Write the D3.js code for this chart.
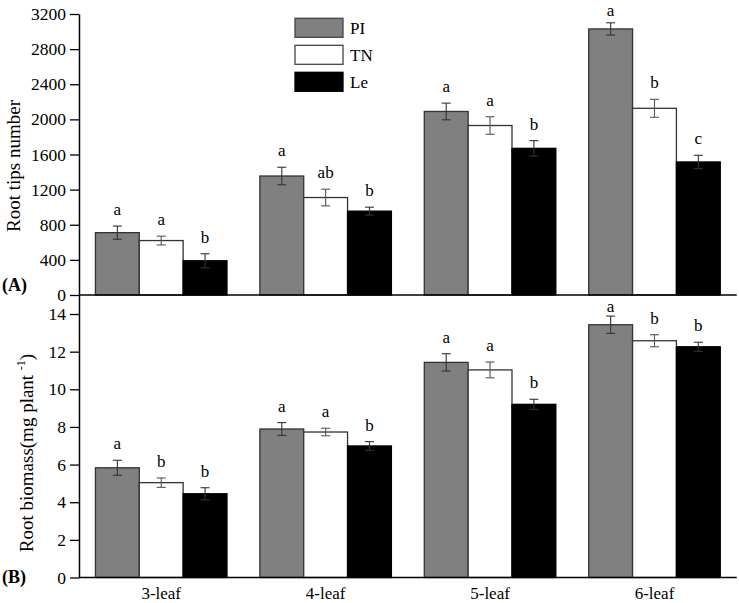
<!DOCTYPE html>
<html><head><meta charset="utf-8">
<script src="https://cdn.jsdelivr.net/npm/d3@7"></script>
<style>
body{margin:0;background:#fff}
svg{display:block}
text{font-family:"Liberation Serif","Times New Roman",serif;fill:#000}
</style>
</head><body>
<svg id="c" width="739" height="603"></svg>
<script>
const categories = ["3-leaf","4-leaf","5-leaf","6-leaf"];
const seriesNames = ["PI","TN","Le"];
const seriesColors = ["#808080","#ffffff","#000000"];

// Panel A: Root tips number
const tipsPI = [710,1355,2090,3030];
const tipsTN = [620,1110,1930,2126];
const tipsLe = [390,955,1670,1515];
const tipsErrPI = [75,100,95,70];
const tipsErrTN = [50,95,100,102];
const tipsErrLe = [80,45,88,76];
const tipsLetPI = ["a","a","a","a"];
const tipsLetTN = ["a","ab","a","b"];
const tipsLetLe = ["b","b","b","c"];
const tipsTicks = [0,400,800,1200,1600,2000,2400,2800,3200];

// Panel B: Root biomass
const bioPI = [5.83,7.89,11.43,13.43];
const bioTN = [5.04,7.73,11.03,12.58];
const bioLe = [4.45,6.99,9.2,12.26];
const bioErrPI = [0.4,0.34,0.46,0.46];
const bioErrTN = [0.25,0.2,0.42,0.32];
const bioErrLe = [0.32,0.23,0.27,0.24];
const bioLetPI = ["a","a","a","a"];
const bioLetTN = ["b","a","a","b"];
const bioLetLe = ["b","b","b","b"];
const bioTicks = [0,2,4,6,8,10,12,14];

const svg = d3.select("#c");
const axisX = 79, rightX = 736.7;

const x0 = d3.scaleBand().domain(categories).range([axisX, rightX]).paddingInner(0.2).paddingOuter(0.1);
const x1 = d3.scaleBand().domain(seriesNames).range([0, x0.bandwidth()]).padding(0);

function panel(yScale, ticks, vals, errs, lets, minBase){
  const g = svg.append("g");
  seriesNames.forEach((s, si) => {
    categories.forEach((c, ci) => {
      const v = vals[si][ci], e = errs[si][ci];
      const bx = x0(c) + x1(s), bw = x1.bandwidth();
      g.append("rect")
        .attr("x", bx).attr("y", yScale(v))
        .attr("width", bw).attr("height", yScale(0) - yScale(v))
        .attr("fill", seriesColors[si])
        .attr("stroke", si === 2 ? "#000" : "#333")
        .attr("stroke-width", 1.3);
      const cx = bx + bw/2;
      const eb = g.append("g").attr("stroke", si===1 ? "#555" : "#333").attr("stroke-width", 1.1);
      eb.append("line").attr("x1", cx).attr("x2", cx).attr("y1", yScale(v+e)).attr("y2", yScale(v-e));
      eb.append("line").attr("x1", cx-4.5).attr("x2", cx+4.5).attr("y1", yScale(v+e)).attr("y2", yScale(v+e));
      eb.append("line").attr("x1", cx-4.5).attr("x2", cx+4.5).attr("y1", yScale(v-e)).attr("y2", yScale(v-e));
      g.append("text").attr("x", cx).attr("y", Math.max(yScale(v+e) - 11, minBase))
        .attr("text-anchor", "middle").style("font-size", "17px").text(lets[si][ci]);
    });
  });
  const ax = svg.append("g").attr("transform", `translate(${axisX},0)`)
    .call(d3.axisLeft(yScale).tickValues(ticks).tickSize(9).tickSizeOuter(0).tickPadding(4).tickFormat(d3.format("d")));
  ax.select(".domain").attr("stroke", "#000").attr("stroke-width", 1.5);
  ax.selectAll(".tick line").attr("stroke", "#000").attr("stroke-width", 1.3);
  ax.selectAll(".tick text").style("font-size", "17.5px").style("font-family", '"Liberation Serif",serif').attr("fill", "#000");
  svg.append("line").attr("x1", axisX).attr("x2", rightX)
    .attr("y1", yScale(0)).attr("y2", yScale(0)).attr("stroke", "#000").attr("stroke-width", 1.5);
}

const yA = d3.scaleLinear().domain([0,3200]).range([295,14]);
const yB = d3.scaleLinear().domain([0,15]).range([577.5,295.2]);

panel(yA, tipsTicks, [tipsPI,tipsTN,tipsLe], [tipsErrPI,tipsErrTN,tipsErrLe], [tipsLetPI,tipsLetTN,tipsLetLe], 16);
panel(yB, bioTicks, [bioPI,bioTN,bioLe], [bioErrPI,bioErrTN,bioErrLe], [bioLetPI,bioLetTN,bioLetLe], 312);

// x category labels
svg.append("g").selectAll("text").data(categories).join("text")
  .attr("x", d => x0(d) + x0.bandwidth()/2).attr("y", 599)
  .attr("text-anchor", "middle").style("font-size", "17px").text(d => d);

// y titles
svg.append("text").attr("transform", "translate(20,166) rotate(-90)")
  .attr("text-anchor", "middle").style("font-size", "19px").text("Root tips number");
const tB = svg.append("text").attr("transform", "translate(33,453) rotate(-90)")
  .attr("text-anchor", "middle").style("font-size", "19px");
tB.append("tspan").text("Root biomass(mg plant ");
tB.append("tspan").attr("dy", -8).style("font-size", "12px").text("-1");
tB.append("tspan").attr("dy", 8).text(")");

// panel tags
svg.append("text").attr("x", 2).attr("y", 291).style("font-size", "18px").style("font-weight", "bold").text("(A)");
svg.append("text").attr("x", 2).attr("y", 583).style("font-size", "18px").style("font-weight", "bold").text("(B)");

// legend
const leg = svg.append("g");
seriesNames.forEach((s, i) => {
  const ly = 18.3 + i*27;
  leg.append("rect").attr("x", 295).attr("y", ly).attr("width", 48).attr("height", 19)
    .attr("fill", seriesColors[i]).attr("stroke", i===2 ? "#000" : "#444").attr("stroke-width", 1.3);
  leg.append("text").attr("x", 350).attr("y", ly + 15.5).style("font-size", "17px").text(s);
});
</script>
</body></html>
